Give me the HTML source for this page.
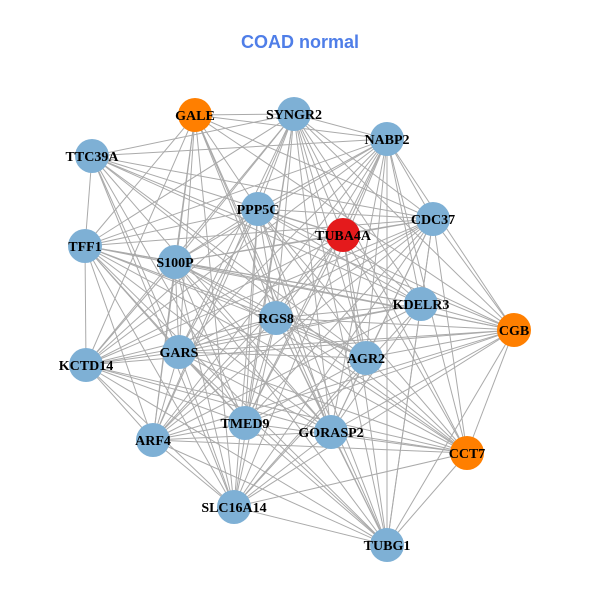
<!DOCTYPE html>
<html><head><meta charset="utf-8"><style>
html,body{margin:0;padding:0;background:#fff;}
svg{display:block;}
text{font-family:"Liberation Serif",serif;font-weight:bold;font-size:14px;fill:#000;}
</style></head><body>
<svg id="g" width="600" height="600" viewBox="0 0 600 600">
<text x="300" y="48" text-anchor="middle" style="font-family:'Liberation Sans',sans-serif;font-size:18px;fill:#4f7ee8;font-weight:bold">COAD normal</text>
<g id="edges" stroke="#aaaaaa" stroke-width="1"></g>
<g id="nodes"></g>
</svg>
<script>
var N=[["GALE",195,115,"#ff7f00"],["SYNGR2",294,114],["NABP2",387,139],["TTC39A",92,156],["CDC37",433,219],["PPP5C",258,209],["TUBA4A",343,235,"#e41a1c"],["TFF1",85,246],["S100P",175,262],["KDELR3",421,304],["CGB",514,330,"#ff7f00"],["RGS8",276,318],["AGR2",366,358],["GARS",179,352],["KCTD14",86,365],["TMED9",245,423],["GORASP2",331,432],["ARF4",153,440],["CCT7",467,453,"#ff7f00"],["SLC16A14",234,507],["TUBG1",387,545]];
var ns="http://www.w3.org/2000/svg",E=document.getElementById("edges"),G=document.getElementById("nodes");
for(var i=0;i<N.length;i++)for(var j=i+1;j<N.length;j++){
 if((i*7+j*3)%9==0)continue;
 var l=document.createElementNS(ns,"line");
 l.setAttribute("x1",N[i][1]);l.setAttribute("y1",N[i][2]);l.setAttribute("x2",N[j][1]);l.setAttribute("y2",N[j][2]);E.appendChild(l);}
N.forEach(function(n){
 var c=document.createElementNS(ns,"circle");c.setAttribute("cx",n[1]);c.setAttribute("cy",n[2]);c.setAttribute("r",17);c.setAttribute("fill",n[3]||"#7eb0d5");G.appendChild(c);
 var t=document.createElementNS(ns,"text");t.setAttribute("x",n[1]);t.setAttribute("y",n[2]+5);t.setAttribute("text-anchor","middle");t.textContent=n[0];G.appendChild(t);});
</script>
</body></html>
